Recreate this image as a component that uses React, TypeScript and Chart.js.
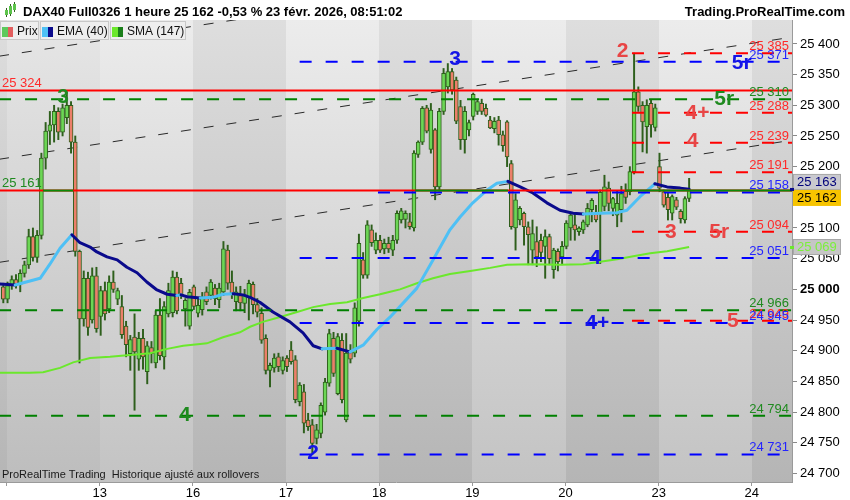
import React, { useEffect, useRef } from 'react';
import { Chart, registerables } from 'chart.js';

Chart.register(...registerables);

const FONT = "'Liberation Sans', Arial, sans-serif";

// Hourly candles [open, high, low, close]; bar index 0 = first visible bar
const ohlc: [number, number, number, number][] = [
  [25004, 25010, 24978, 24984], [24984, 25012, 24978, 25006], [25006, 25022, 25000, 25016], [25016, 25024, 25002, 25008],
  [25008, 25032, 24996, 25026], [25026, 25046, 25020, 25040], [25040, 25098, 25034, 25086], [25086, 25100, 25046, 25052],
  [25052, 25096, 25044, 25088], [25088, 25222, 25082, 25214], [25214, 25272, 25196, 25258], [25258, 25290, 25236, 25268],
  [25268, 25300, 25240, 25290], [25290, 25296, 25244, 25256], [25256, 25302, 25250, 25296], [25280, 25322, 25270, 25300],
  [25300, 25306, 25222, 25240], [25240, 25250, 25054, 25062], [25062, 25064, 24880, 24952], [24952, 25030, 24940, 25018],
  [25018, 25028, 24925, 24938], [24950, 25035, 24945, 25022], [25022, 25036, 24930, 24936], [24956, 25005, 24925, 24998],
  [24998, 25012, 24950, 24960], [24968, 25022, 24962, 25012], [25012, 25030, 24995, 25000], [24984, 25002, 24975, 24998],
  [24972, 24990, 24920, 24926], [24940, 24948, 24890, 24910], [24895, 24925, 24868, 24918], [24922, 24960, 24803, 24898],
  [24886, 24930, 24868, 24920], [24920, 24935, 24870, 24890], [24866, 24915, 24846, 24908], [24905, 24915, 24880, 24895],
  [24880, 24965, 24872, 24958], [24958, 24985, 24885, 24892], [24890, 24980, 24870, 24972], [24960, 25010, 24955, 24998],
  [24962, 25030, 24955, 25020], [25020, 25028, 24960, 24965], [25010, 25018, 24985, 24990], [24968, 24985, 24940, 24982],
  [24940, 25000, 24935, 24995], [25004, 25007, 24967, 24972], [24961, 24985, 24955, 24974], [24967, 24995, 24958, 24988],
  [24996, 25004, 24975, 24980], [24990, 25016, 24984, 25012], [25002, 25008, 24975, 24985], [24983, 25010, 24970, 25002],
  [24996, 25078, 24990, 25066], [25064, 25072, 25000, 25010], [25012, 25030, 24985, 24994], [24980, 25004, 24965, 24996],
  [24990, 25005, 24965, 24978], [24977, 25000, 24962, 24991], [24988, 25015, 24950, 25010], [25008, 25012, 24960, 24975],
  [24975, 24985, 24955, 24963], [24961, 24970, 24912, 24917], [24920, 24926, 24862, 24868], [24868, 24880, 24841, 24876],
  [24872, 24895, 24865, 24888], [24890, 24896, 24866, 24874], [24868, 24890, 24862, 24884], [24888, 24892, 24866, 24874],
  [24901, 24915, 24878, 24882], [24885, 24892, 24815, 24820], [24817, 24848, 24810, 24844], [24833, 24845, 24766, 24782],
  [24787, 24798, 24770, 24776], [24779, 24788, 24733, 24749], [24757, 24780, 24748, 24771], [24765, 24815, 24758, 24811],
  [24800, 24855, 24795, 24849], [24847, 24935, 24842, 24928], [24920, 24930, 24858, 24863], [24830, 24928, 24828, 24923],
  [24917, 24928, 24815, 24820], [24787, 24928, 24784, 24896], [24900, 24910, 24880, 24886], [24896, 24978, 24890, 24970],
  [24948, 25090, 24940, 25075], [25048, 25060, 25018, 25023], [25023, 25112, 25018, 25105], [25097, 25105, 25070, 25076],
  [25064, 25092, 25058, 25080], [25080, 25088, 25060, 25064], [25066, 25082, 25058, 25075], [25075, 25085, 25060, 25066],
  [25064, 25088, 25055, 25080], [25080, 25128, 25075, 25124], [25113, 25132, 25108, 25128], [25114, 25128, 25100, 25124],
  [25110, 25124, 25098, 25102], [25100, 25226, 25095, 25222], [25220, 25242, 25215, 25240], [25240, 25298, 25236, 25295],
  [25296, 25300, 25255, 25258], [25228, 25303, 25222, 25292], [25260, 25262, 25146, 25167], [25167, 25295, 25160, 25290],
  [25290, 25360, 25285, 25352], [25330, 25368, 25320, 25355], [25355, 25360, 25318, 25325], [25341, 25346, 25270, 25274],
  [25298, 25308, 25228, 25244], [25244, 25298, 25222, 25290], [25260, 25276, 25250, 25272], [25282, 25320, 25276, 25318],
  [25290, 25310, 25285, 25306], [25303, 25310, 25285, 25290], [25295, 25302, 25282, 25284], [25276, 25282, 25262, 25263],
  [25262, 25280, 25255, 25274], [25276, 25282, 25235, 25252], [25252, 25258, 25225, 25234], [25273, 25275, 25200, 25216],
  [25205, 25210, 25098, 25102], [25100, 25156, 25064, 25146], [25113, 25135, 25105, 25132], [25124, 25126, 25072, 25102],
  [25102, 25110, 25040, 25089], [25064, 25113, 25040, 25091], [25078, 25102, 25037, 25053], [25080, 25090, 25045, 25060],
  [25070, 25097, 25018, 25086], [25086, 25090, 25040, 25050], [25032, 25067, 25018, 25064], [25062, 25066, 25030, 25045],
  [25053, 25078, 25040, 25070], [25070, 25112, 25066, 25108], [25100, 25124, 25080, 25121], [25105, 25124, 25080, 25097],
  [25094, 25102, 25088, 25100], [25097, 25113, 25091, 25110], [25105, 25140, 25102, 25132], [25130, 25148, 25110, 25145],
  [25126, 25137, 25110, 25113], [25124, 25162, 25042, 25158], [25135, 25186, 25128, 25167], [25165, 25175, 25128, 25140],
  [25132, 25150, 25120, 25148], [25121, 25160, 25102, 25140], [25130, 25168, 25110, 25156], [25160, 25172, 25140, 25150],
  [25159, 25200, 25154, 25192], [25192, 25385, 25188, 25322], [25322, 25330, 25290, 25298], [25300, 25306, 25224, 25273],
  [25265, 25309, 25222, 25300], [25303, 25308, 25248, 25268], [25264, 25302, 25258, 25296], [25200, 25222, 25159, 25165],
  [25159, 25162, 25134, 25137], [25150, 25157, 25113, 25130], [25124, 25154, 25113, 25151], [25146, 25150, 25130, 25134],
  [25127, 25130, 25108, 25115], [25113, 25151, 25108, 25148], [25148, 25181, 25143, 25162],
];

// EMA(40): bar index / value
const emaBars = [-1, 2.8, 8.7, 11, 13.4, 16.2, 18.1, 20.5, 22.1, 24.5, 26.9, 29.2, 31.6, 33.9, 36.3, 38.7, 41, 42, 43.4, 46.5, 49.5, 51.9, 54.3, 56.6, 58.3, 60.6, 63.7, 67.7, 70.8, 73.2, 75.3, 78.8, 81.9, 85, 88.3, 91.4, 97.7, 101.5, 105.5, 107.9, 110.9, 114.3, 116.6, 119.2, 122.1, 125.1, 128.4, 131.5, 134.6, 137, 141, 145, 147.3, 150.4, 153.9, 156.8, 159.9, 162];
const emaValues = [25009, 25007, 25018, 25041, 25067, 25089, 25076, 25069, 25061, 25053, 25048, 25036, 25027, 25012, 24999, 24992, 24990, 24991, 24988, 24986, 24987, 24992, 24993, 24991, 24987, 24979, 24963, 24947, 24929, 24908, 24903, 24904, 24898, 24909, 24935, 24955, 25002, 25048, 25097, 25118, 25141, 25162, 25173, 25176, 25167, 25157, 25141, 25129, 25124, 25123, 25124, 25125, 25129, 25151, 25172, 25167, 25165, 25163];

// SMA(147)
const smaBars = [-1, 6.3, 9.4, 13.4, 16.5, 20.5, 25.2, 29.9, 34.7, 38.7, 42.5, 46.5, 48.1, 51.9, 55.9, 58.3, 61.3, 65.4, 69.4, 73.2, 77.2, 81.2, 85, 89, 91.4, 93.7, 97.7, 101.5, 105.5, 110.3, 115, 119, 124.4, 131.5, 136.9, 141, 145, 148.8, 152.8, 156.8, 162];
const smaValues = [24864, 24864, 24865, 24872, 24881, 24888, 24890, 24893, 24896, 24903, 24908, 24911, 24912, 24922, 24930, 24939, 24947, 24955, 24963, 24971, 24976, 24979, 24986, 24992, 24996, 25000, 25010, 25018, 25025, 25030, 25035, 25040, 25041, 25040, 25041, 25045, 25049, 25054, 25059, 25062, 25069];

// Day sessions: boundaries in bar units
const dayBoundaryBars = [-30, 0.8, 22.8, 44.8, 66.8, 88.8, 110.8, 132.8, 154.8, 176.8];
const dayShade = ['dark', 'mid', 'light', 'dark', 'light', 'dark', 'light', 'dark', 'light', 'dark'];
const dayTickBars = [0.8, 22.8, 44.8, 66.8, 88.8, 110.8, 132.8, 154.8, 176.8];
const dayTickLabels = ['', '13', '16', '17', '18', '19', '20', '23', '24'];

const yTickValues = [24700, 24750, 24800, 24850, 24900, 24950, 25000, 25050, 25100, 25150, 25200, 25250, 25300, 25350, 25400];

// Horizontal levels
const dashedLevelPrices = [25385, 25371, 25310, 25288, 25239, 25191, 25158, 25094, 25051, 24966, 24949, 24945, 24794, 24731];
const dashedLevelKinds = ['r', 'b', 'g', 'r', 'r', 'r', 'b', 'r', 'b', 'g', 'r', 'b', 'g', 'b'];
const dashedLevelFromBar = [148.5, 70, -1, 148.5, 148.5, 148.5, 88.5, 148.5, 70, -1, 148.5, 70, -1, 70];
const solidRedLevels = [25324, 25161];
const greenSegPrice = 25161;
const greenSegFrom = [9.4, 97.3, 146.9];
const greenSegTo = [16.5, 119.2, 190];

// Trend channel (price at left and right edges)
const channelFromBar = -1;
const channelToBar = 190;
const channelStart = [25044, 25212, 25380];
const channelEnd = [25247, 25415, 25583];

// Signal marks
const signalTexts = ['3', '4', '3', '2', '4', '4+', '2', '5r', '5r', '4+', '4', '3', '5r', '5'];
const signalKinds = ['g', 'g', 'b', 'b', 'b', 'b', 'r', 'b', 'g', 'r', 'r', 'r', 'r', 'r'];
const signalBars = [14.1, 42.9, 106.7, 73.2, 139.8, 140.3, 146.3, 174.4, 170.3, 164, 162.8, 157.7, 169.1, 172.3];
const signalPrices = [25315, 24797, 25376, 24735, 25053, 24947, 25389, 25371, 25311, 25289, 25243, 25094, 25094, 24950];

const lastPrice = 25162;
const emaLast = 25163;
const smaLast = 25069;

const titleText = 'DAX40 Full0326 1 heure 25 162 -0,53 % 23 févr. 2026, 08:51:02';
const siteText = 'Trading.ProRealTime.com';
const footerText = 'ProRealTime Trading  Historique ajusté aux rollovers';
const legendNames = ['Prix', 'EMA (40)', 'SMA (147)'];

const COL = {
  up: '#6cd655', down: '#ec7f6a', edge: '#2e5f1c',
  emaUp: '#4ec0f5', emaDown: '#0a0a8c', sma: '#6be82c',
  lineR: '#ff0000', lineB: '#0000ff', lineG: '#008000',
  txtR: '#ff2a2a', txtB: '#2424ff', txtG: '#1f8a1f',
  sigR: '#e84545', sigB: '#1414e6', sigG: '#1f8a1f',
};
const lineCol = (k: string) => (k === 'r' ? COL.lineR : k === 'b' ? COL.lineB : COL.lineG);
const txtCol = (k: string) => (k === 'r' ? COL.txtR : k === 'b' ? COL.txtB : COL.txtG);
const sigCol = (k: string) => (k === 'r' ? COL.sigR : k === 'b' ? COL.sigB : COL.sigG);

const fmtPrice = (v: number) => {
  const s = Math.round(v).toString();
  return s.slice(0, s.length - 3) + ' ' + s.slice(-3);
};

const bgPlugin = {
  id: 'bgPlugin',
  beforeDraw(chart: any) {
    const { ctx, chartArea: a, scales } = chart;
    const xs = scales.x;
    ctx.save();
    ctx.fillStyle = '#ffffff';
    ctx.fillRect(0, 0, chart.width, chart.height);
    const shades: any = {
      light: ['#ececec', '#c3c3c3'],
      mid: ['#e6e6e6', '#bdbdbd'],
      dark: ['#dedede', '#b5b5b5'],
    };
    for (let i = 0; i < dayBoundaryBars.length; i++) {
      const x0 = Math.max(a.left, Math.round(xs.getPixelForValue(dayBoundaryBars[i])));
      const nextB = i + 1 < dayBoundaryBars.length ? dayBoundaryBars[i + 1] : 400;
      const x1 = Math.min(a.right, Math.round(xs.getPixelForValue(nextB)));
      if (x1 <= x0) continue;
      const g = ctx.createLinearGradient(0, a.top, 0, a.bottom);
      g.addColorStop(0, shades[dayShade[i]][0]);
      g.addColorStop(1, shades[dayShade[i]][1]);
      ctx.fillStyle = g;
      ctx.fillRect(x0, a.top, x1 - x0, a.bottom - a.top);
    }
    ctx.restore();
  },
};

const overlayPlugin = {
  id: 'overlayPlugin',
  afterDraw(chart: any) {
    const { ctx, chartArea: a, scales } = chart;
    const xs = scales.x;
    const ys = scales.y;
    ctx.save();
    ctx.beginPath();
    ctx.rect(a.left, a.top, a.right - a.left, a.bottom - a.top);
    ctx.clip();

    // level value labels at right edge
    ctx.font = `13px ${FONT}`;
    ctx.textAlign = 'right';
    ctx.textBaseline = 'alphabetic';
    dashedLevelPrices.forEach((p, i) => {
      ctx.fillStyle = txtCol(dashedLevelKinds[i]);
      ctx.fillText(fmtPrice(p), a.right - 3, ys.getPixelForValue(p) - 3);
    });
    // left labels
    ctx.textAlign = 'left';
    ctx.fillStyle = COL.txtR;
    ctx.fillText(fmtPrice(solidRedLevels[0]), a.left + 2, ys.getPixelForValue(solidRedLevels[0]) - 4);
    ctx.fillStyle = COL.txtG;
    ctx.fillText(fmtPrice(solidRedLevels[1]), a.left + 2, ys.getPixelForValue(solidRedLevels[1]) - 4);

    // signal marks
    ctx.font = `bold 21px ${FONT}`;
    ctx.textAlign = 'center';
    ctx.textBaseline = 'middle';
    signalTexts.forEach((t, i) => {
      ctx.fillStyle = sigCol(signalKinds[i]);
      ctx.fillText(t, xs.getPixelForValue(signalBars[i]), ys.getPixelForValue(signalPrices[i]) + 1);
    });

    // footer
    ctx.font = `11px ${FONT}`;
    ctx.textAlign = 'left';
    ctx.textBaseline = 'alphabetic';
    ctx.fillStyle = '#1a1a1a';
    ctx.fillText(footerText, a.left + 2, a.bottom - 4);
    ctx.restore();

    // header
    ctx.save();
    ctx.fillStyle = '#000';
    ctx.font = `bold 13px ${FONT}`;
    ctx.textBaseline = 'alphabetic';
    ctx.textAlign = 'left';
    ctx.fillText(titleText, 23, 16);
    ctx.textAlign = 'right';
    ctx.fillText(siteText, 845, 16);
    // tiny candle icon
    const icon = [[6, 9, 15, '#5cc34a'], [10, 5, 14, '#5cc34a'], [14, 3, 10, '#5cc34a']];
    icon.forEach((c: any) => {
      ctx.fillStyle = '#2e5f1c';
      ctx.fillRect(c[0], c[1] - 1, 1, c[2] - c[1] + 3);
      ctx.fillStyle = c[3];
      ctx.fillRect(c[0] - 1, c[1] + 1, 3, c[2] - c[1] - 1);
    });

    // legend boxes
    const boxes = [
      { x: 0, w: 39, c1: '#5cc95c', c2: '#e25e5e' },
      { x: 40, w: 69, c1: '#4ec0f5', c2: '#0a0a8c' },
      { x: 110, w: 76, c1: '#6be82c', c2: '#1a7f1a' },
    ];
    ctx.font = `12px ${FONT}`;
    ctx.textAlign = 'left';
    boxes.forEach((b, i) => {
      ctx.fillStyle = '#eeeeee';
      ctx.fillRect(b.x, 21, b.w, 19);
      ctx.strokeStyle = '#c8c8c8';
      ctx.lineWidth = 1;
      ctx.strokeRect(b.x + 0.5, 21.5, b.w - 1, 18);
      ctx.fillStyle = b.c1;
      ctx.fillRect(b.x + 2, 27, 6, 10);
      ctx.fillStyle = b.c2;
      ctx.fillRect(b.x + 8, 27, 5, 10);
      ctx.fillStyle = '#111';
      ctx.fillText(legendNames[i], b.x + 17, 35);
    });

    // price tags on the right axis
    const tagX = a.right + 1;
    const yLast = ys.getPixelForValue(lastPrice);
    const ySma = ys.getPixelForValue(smaLast);
    ctx.font = `13px ${FONT}`;
    ctx.textBaseline = 'middle';
    // EMA tag above
    ctx.fillStyle = '#c9c9cf';
    ctx.fillRect(tagX, yLast - 16, 48, 16);
    ctx.strokeStyle = '#a8a8a8';
    ctx.strokeRect(tagX + 0.5, yLast - 15.5, 47, 15);
    ctx.fillStyle = '#00007a';
    ctx.fillText(fmtPrice(emaLast), tagX + 4, yLast - 7.5);
    // last price tag
    ctx.fillStyle = '#f7c400';
    ctx.fillRect(tagX, yLast, 48, 16);
    ctx.fillStyle = '#000';
    ctx.fillText(fmtPrice(lastPrice), tagX + 4, yLast + 8.5);
    // SMA tag
    ctx.fillStyle = '#c6c6c6';
    ctx.fillRect(tagX, ySma - 8, 48, 16);
    ctx.strokeStyle = '#a8a8a8';
    ctx.strokeRect(tagX + 0.5, ySma - 7.5, 47, 15);
    ctx.fillStyle = '#7cf03c';
    ctx.fillText(fmtPrice(smaLast), tagX + 4, ySma + 0.5);
    // small markers on axis line
    ctx.fillStyle = COL.emaDown;
    ctx.fillRect(a.right - 2, yLast - 2, 4, 3);
    ctx.fillStyle = COL.sma;
    ctx.fillRect(a.right - 2, ySma - 1, 4, 3);
    ctx.restore();
  },
};

export default function App() {
  const ref = useRef<HTMLCanvasElement>(null);

  useEffect(() => {
    const canvas = ref.current as HTMLCanvasElement;

    const wickData = ohlc.map((c, i) => ({ x: i, y: [c[2], c[1]] }));
    const bodyData = ohlc.map((c, i) => ({ x: i, y: [Math.min(c[0], c[3]), Math.max(c[0], c[3])] }));
    const bodyColors = ohlc.map((c) => (c[3] >= c[0] ? COL.up : COL.down));

    const datasets: any[] = [];

    // trend channel
    channelStart.forEach((p, i) => {
      datasets.push({
        type: 'line',
        data: [{ x: channelFromBar, y: p }, { x: channelToBar, y: channelEnd[i] }],
        borderColor: '#2a2a2a',
        borderWidth: 1,
        borderDash: [10, 13],
        pointRadius: 0,
        fill: false,
        order: 9,
      });
    });

    datasets.push({
      type: 'bar',
      data: wickData,
      backgroundColor: COL.edge,
      borderWidth: 0,
      barThickness: 1.3,
      grouped: false,
      order: 8,
    });
    datasets.push({
      type: 'bar',
      data: bodyData,
      backgroundColor: bodyColors,
      borderColor: COL.edge,
      borderWidth: 1,
      borderSkipped: false,
      barThickness: 4,
      grouped: false,
      minBarLength: 2,
      order: 7,
    });

    datasets.push({
      type: 'line',
      data: smaBars.map((b, i) => ({ x: b, y: smaValues[i] })),
      borderColor: COL.sma,
      borderWidth: 2,
      pointRadius: 0,
      fill: false,
      order: 6,
    });
    datasets.push({
      type: 'line',
      data: emaBars.map((b, i) => ({ x: b, y: emaValues[i] })),
      borderColor: COL.emaDown,
      borderWidth: 3,
      pointRadius: 0,
      fill: false,
      borderCapStyle: 'round',
      borderJoinStyle: 'round',
      segment: {
        borderColor: (ctx: any) => (ctx.p1.parsed.y > ctx.p0.parsed.y ? COL.emaUp : COL.emaDown),
      },
      order: 5,
    });

    solidRedLevels.forEach((p) => {
      datasets.push({
        type: 'line',
        data: [{ x: -2, y: p }, { x: 190, y: p }],
        borderColor: COL.lineR,
        borderWidth: 2,
        pointRadius: 0,
        fill: false,
        order: 4,
      });
    });

    dashedLevelPrices.forEach((p, i) => {
      datasets.push({
        type: 'line',
        data: [{ x: dashedLevelFromBar[i], y: p }, { x: 190, y: p }],
        borderColor: lineCol(dashedLevelKinds[i]),
        borderWidth: 2,
        borderDash: [12, 14],
        pointRadius: 0,
        fill: false,
        order: 3,
      });
    });

    greenSegFrom.forEach((f, i) => {
      datasets.push({
        type: 'line',
        data: [{ x: f, y: greenSegPrice }, { x: greenSegTo[i], y: greenSegPrice }],
        borderColor: '#0a8a0a',
        borderWidth: 2,
        pointRadius: 0,
        fill: false,
        order: 2,
      });
    });

    const chart = new Chart(canvas, {
      type: 'bar',
      data: { datasets },
      options: {
        responsive: false,
        animation: false,
        devicePixelRatio: 1,
        events: [],
        layout: { padding: { top: 20, left: 0, right: 0, bottom: 0 } },
        plugins: { legend: { display: false }, tooltip: { enabled: false } },
        scales: {
          x: {
            type: 'linear',
            min: -0.78,
            max: 186.3,
            offset: false,
            grid: { display: true, drawOnChartArea: false, drawTicks: true, tickLength: 4, color: '#9a9a9a', offset: false },
            border: { display: true, color: '#9a9a9a' },
            ticks: {
              autoSkip: false,
              maxRotation: 0,
              padding: 0,
              color: '#000',
              font: { family: FONT, size: 13 },
              callback: (_v: any, i: number) => dayTickLabels[i] ?? '',
            },
            afterBuildTicks: (s: any) => {
              s.ticks = dayTickBars.map((v) => ({ value: v }));
            },
            afterFit: (s: any) => {
              s.height = 18;
            },
          },
          y: {
            type: 'linear',
            position: 'right',
            min: 24686,
            max: 25439,
            grid: { drawOnChartArea: false, tickLength: 5, color: '#8a8a8a' },
            border: { display: true, color: '#9a9a9a' },
            ticks: {
              padding: 3,
              color: '#000',
              font: (ctx: any) => ({
                family: FONT,
                size: 13,
                weight: ctx.tick && ctx.tick.value % 1000 === 0 ? 'bold' : 'normal',
              }),
              callback: (v: any) => fmtPrice(Number(v)),
            },
            afterBuildTicks: (s: any) => {
              s.ticks = yTickValues.map((v) => ({ value: v }));
            },
            afterFit: (s: any) => {
              s.width = 58;
            },
          },
        },
      } as any,
      plugins: [bgPlugin, overlayPlugin],
    } as any);

    return () => chart.destroy();
  }, []);

  return (
    <div style={{ position: 'fixed', left: 0, top: 0, width: 850, height: 500, background: '#fff' }}>
      <canvas ref={ref} width={850} height={500} style={{ display: 'block', width: 850, height: 500 }} />
    </div>
  );
}
